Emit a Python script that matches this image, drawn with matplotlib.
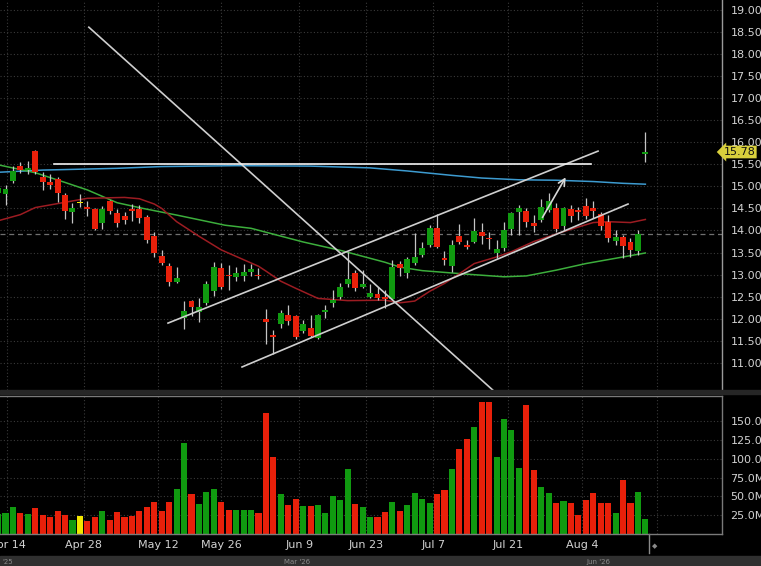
import matplotlib
matplotlib.use("Agg")
import matplotlib.pyplot as plt
import matplotlib.transforms as mtransforms
from matplotlib.patches import Rectangle
import numpy as np

# daily bars, 9 Apr 2025 .. 14 Aug 2025 (index = trading day)
opens = [14.85, 14.82, 15.13, 15.47, 15.37, 15.80, 15.21, 15.11, 15.16, 14.80,
         14.41, 14.63, 14.54, 14.48, 14.18, 14.67, 14.39, 14.33, 14.49, 14.49,
         14.30, 13.88, 13.42, 13.20, 12.84, 12.01, 12.40, 12.16, 12.35, 12.63,
         13.14, 13.00, 12.95, 12.97, 13.06, 13.00, 11.99, 11.63, 11.88, 12.08,
         12.05, 11.71, 11.80, 11.56, 12.15, 12.35, 12.50, 12.79, 13.04, 12.73,
         12.50, 12.55, 12.50, 12.44, 13.24, 13.03, 13.27, 13.44, 13.67, 14.05,
         13.38, 13.19, 13.88, 13.67, 13.75, 13.97, 13.84, 13.50, 13.60, 14.03,
         14.43, 14.44, 14.18, 14.24, 14.46, 14.50, 14.10, 14.48, 14.46, 14.56,
         14.50, 14.37, 14.20, 13.77, 13.86, 13.75, 13.54, 15.74]
highs = [15.00, 15.03, 15.46, 15.55, 15.58, 15.83, 15.33, 15.27, 15.22, 14.85,
         14.62, 14.83, 14.66, 14.50, 14.56, 14.69, 14.48, 14.43, 14.60, 14.58,
         14.35, 13.97, 13.56, 13.26, 13.17, 12.39, 12.42, 12.46, 12.85, 13.29,
         13.26, 13.22, 13.18, 13.24, 13.24, 13.14, 12.21, 11.74, 12.20, 12.31,
         12.09, 11.97, 12.09, 12.11, 12.31, 12.65, 12.80, 13.52, 13.10, 13.10,
         12.78, 12.71, 12.65, 13.33, 13.31, 13.41, 13.94, 13.75, 14.12, 14.37,
         13.54, 13.78, 14.15, 13.78, 14.28, 14.18, 13.97, 13.78, 14.20, 14.43,
         14.58, 14.50, 14.35, 14.71, 14.84, 14.62, 14.54, 14.58, 14.53, 14.73,
         14.68, 14.43, 14.35, 14.01, 13.90, 13.82, 14.01, 16.23]
lows = [14.75, 14.58, 15.08, 15.30, 15.27, 15.28, 14.92, 14.93, 14.65, 14.26,
        14.18, 14.54, 14.33, 14.01, 14.03, 14.37, 14.07, 14.15, 14.22, 14.16,
        13.72, 13.41, 13.22, 12.74, 12.82, 11.76, 12.05, 11.93, 12.30, 12.51,
        12.67, 12.65, 12.86, 12.86, 12.97, 12.89, 11.43, 11.20, 11.80, 11.86,
        11.55, 11.67, 11.58, 11.54, 12.01, 12.27, 12.44, 12.73, 12.63, 12.69,
        12.46, 12.42, 12.24, 12.42, 12.97, 12.92, 13.22, 13.41, 13.63, 13.60,
        13.22, 13.07, 13.69, 13.57, 13.71, 13.69, 13.57, 13.37, 13.54, 13.90,
        13.90, 14.09, 13.97, 14.20, 14.42, 13.97, 14.01, 14.20, 14.24, 14.25,
        14.28, 14.01, 13.75, 13.67, 13.37, 13.41, 13.44, 15.55]
closes = [14.96, 14.95, 15.35, 15.37, 15.42, 15.32, 15.11, 15.04, 14.86, 14.45,
          14.51, 14.63, 14.49, 14.03, 14.48, 14.44, 14.16, 14.24, 14.44, 14.28,
          13.78, 13.50, 13.26, 12.84, 12.92, 12.18, 12.27, 12.27, 12.78, 13.17,
          12.73, 12.97, 13.04, 13.06, 13.12, 12.97, 11.92, 11.59, 12.12, 11.95,
          11.59, 11.88, 11.61, 12.09, 12.20, 12.42, 12.71, 12.89, 12.69, 12.79,
          12.59, 12.46, 12.45, 13.17, 13.14, 13.35, 13.39, 13.60, 14.05, 13.62,
          13.33, 13.67, 13.75, 13.63, 13.99, 13.88, 13.80, 13.58, 14.00, 14.39,
          14.51, 14.20, 14.10, 14.54, 14.68, 14.03, 14.50, 14.33, 14.42, 14.33,
          14.45, 14.10, 13.82, 13.86, 13.65, 13.56, 13.92, 15.78]
volume_m = [26, 28, 36, 27.5, 26, 35, 25, 22.6, 30, 25,
            18.6, 24, 17, 22.6, 30, 18.6, 29.6, 22, 24, 30,
            36, 42.5, 30, 42.5, 60, 121, 53, 40, 56, 60,
            42.5, 32, 32, 32, 31.5, 27.5, 161, 103, 53, 38.6,
            46, 37, 37, 38.6, 28, 50, 45, 86, 40, 36,
            22.6, 22.6, 29, 42, 30, 38.5, 54, 47, 41, 53,
            58.5, 87, 112.6, 126, 142, 175, 175, 103, 153, 138,
            88, 171, 85, 62, 54.5, 41, 43.5, 41, 25, 45,
            54.5, 41, 41, 27.5, 72, 41, 56, 19.5]

# moving averages (bar index, price)
ma20_idx = [0, 3, 5, 7, 12, 17, 19, 21, 22, 24, 27, 30, 35, 36, 38, 40, 43, 47,
            52, 54, 56, 58, 60, 62, 64, 67, 69, 72, 75, 78, 80, 82, 85, 87]
ma20_val = [14.22, 14.36, 14.52, 14.58, 14.73, 14.75, 14.72, 14.60, 14.50, 14.20,
            13.87, 13.56, 13.19, 13.08, 12.85, 12.69, 12.46, 12.41, 12.42, 12.36,
            12.40, 12.62, 12.80, 13.02, 13.25, 13.40, 13.52, 13.75, 13.92, 14.08,
            14.18, 14.20, 14.18, 14.25]
ma50_idx = [0, 5, 9, 12, 16, 19.5, 24, 30.5, 34, 41, 46, 52, 54, 57, 63, 68, 71,
            75, 79, 83, 87]
ma50_val = [15.49, 15.31, 15.09, 14.92, 14.63, 14.50, 14.35, 14.12, 14.05, 13.74,
            13.55, 13.28, 13.17, 13.09, 13.01, 12.95, 12.97, 13.10, 13.25, 13.37,
            13.49]
ma200_idx = [0, 6, 16, 22, 32, 42, 50, 55, 61, 65, 70, 75, 80, 84, 87]
ma200_val = [15.32, 15.37, 15.41, 15.45, 15.47, 15.46, 15.42, 15.35, 15.25, 15.19,
             15.15, 15.14, 15.11, 15.07, 15.05]

# drawn trendlines: (start idx, start price, end idx, end price)
trend_lines = [(12.2, 18.61, 70.0, 9.85),
               (22.84, 11.90, 80.64, 15.80),
               (32.79, 10.905, 84.67, 14.60)]
resistance = (7.52, 79.7, 15.50)
arrow_line = (72.98, 14.24, 76.47, 15.26)

date_labels = ["Apr 14", "Apr 28", "May 12", "May 26", "Jun 9", "Jun 23",
               "Jul 7", "Jul 21", "Aug 4", ""]
date_pos = [1.7, 12, 22, 30.5, 41, 50, 59, 69, 79, 89]

GREEN = "#109a10"
RED = "#e8200a"
YELLOW = "#f2e600"
GRID = "#3a3a3a"
TXT = "#d2d2d2"

n = len(closes)
x = np.arange(n)
o = np.array(opens); c = np.array(closes)
colors = [GREEN if cc > oo else (RED if cc < oo else YELLOW) for oo, cc in zip(o, c)]

fig = plt.figure(figsize=(7.61, 5.66), dpi=100, facecolor="black")
ax = fig.add_axes([0, 176 / 566, 722 / 761, 390 / 566], facecolor="black")
axv = fig.add_axes([0, 32 / 566, 722 / 761, 138 / 566], facecolor="black")

xlim = (0.26, 97.3)
grid_x = [p - 0.5 for p in date_pos]

# ---- price panel
ax.set_xlim(*xlim)
ax.set_ylim(10.383, 19.227)
for gy in np.arange(11, 19.01, 0.5):
    ax.axhline(gy, color=GRID, lw=0.8, ls=(0, (1, 2)), zorder=0)
for gx in grid_x:
    ax.axvline(gx, color=GRID, lw=0.8, ls=(0, (1, 2)), zorder=0)

ax.axhline(closes[-2], color="#707070", lw=0.9, ls=(0, (4, 3)), zorder=1)

ax.plot(ma200_idx, ma200_val, color="#3d9bd0", lw=1.1, zorder=2)
ax.plot(ma50_idx, ma50_val, color="#3cae3c", lw=1.1, zorder=2)
ax.plot(ma20_idx, ma20_val, color="#9c1c22", lw=1.1, zorder=2)

ax.vlines(x, lows, highs, color="#c4c4c4", lw=0.9, zorder=3)
bottoms = np.minimum(o, c)
heights = np.maximum(np.abs(c - o), 0.025)
ax.bar(x, heights, bottom=bottoms, width=0.8, color=colors, lw=0, zorder=4)

for x0, y0, x1, y1 in trend_lines:
    ax.plot([x0, x1], [y0, y1], color="#cfcfcf", lw=1.2, zorder=5)
ax.plot([resistance[0], resistance[1]], [resistance[2]] * 2, color="#f4f4f4",
        lw=1.2, zorder=5)
ax.annotate("", xy=(arrow_line[2], arrow_line[3]), xytext=(arrow_line[0], arrow_line[1]),
            arrowprops=dict(arrowstyle="->", color="#d8d8d8", lw=1.2,
                            mutation_scale=12), zorder=6)

ax.yaxis.tick_right()
ax.set_yticks(np.arange(11, 19.01, 0.5))
ax.set_yticklabels([f"{v:.2f}" for v in np.arange(11, 19.01, 0.5)])
ax.tick_params(axis="y", length=0, pad=6, labelsize=8, labelcolor=TXT)
ax.set_xticks([])
for s in ["left", "top", "bottom"]:
    ax.spines[s].set_visible(False)
ax.spines["right"].set_color("#9a9a9a")
ax.spines["right"].set_linewidth(1.0)

trans = mtransforms.blended_transform_factory(ax.transAxes, ax.transData)
ax.text(1.002, closes[-1], f"{closes[-1]:.2f}", transform=trans, fontsize=8,
        color="#111111", va="center", ha="left", clip_on=False, zorder=10,
        bbox=dict(boxstyle="larrow,pad=0.12", fc="#d8cf3c", ec="none"))

# ---- volume panel
axv.set_xlim(*xlim)
axv.set_ylim(0, 183.5)
for gy in [25, 50, 75, 100, 125, 150]:
    axv.axhline(gy, color=GRID, lw=0.8, ls=(0, (1, 2)), zorder=0)
for gx in grid_x:
    axv.axvline(gx, color=GRID, lw=0.8, ls=(0, (1, 2)), zorder=0)
axv.bar(x, volume_m, width=0.82, color=colors, lw=0, zorder=2)

axv.yaxis.tick_right()
axv.set_yticks([25, 50, 75, 100, 125, 150])
axv.set_yticklabels(["25.0M", "50.0M", "75.0M", "100.0M", "125.0M", "150.0M"])
axv.tick_params(axis="y", length=0, pad=6, labelsize=8, labelcolor=TXT)
axv.set_xticks(grid_x)
axv.set_xticklabels(date_labels)
axv.tick_params(axis="x", length=0, pad=4, labelsize=8, labelcolor=TXT)
axv.spines["left"].set_visible(False)
for s in ["top", "right", "bottom"]:
    axv.spines[s].set_color("#7a7a7a")
    axv.spines[s].set_linewidth(1.0)

# "now" marker under the last bar
tv = mtransforms.blended_transform_factory(axv.transData, axv.transAxes)
axv.plot([n - 0.5, n - 0.5], [0, -0.14], color="#8a8a8a", lw=1, transform=tv,
         clip_on=False)
axv.text(n + 0.3, -0.085, "\u25c6", transform=tv, fontsize=5, color="#8a8a8a",
         ha="center", va="center", clip_on=False)

# separator and navigator strip
fig.patches.append(Rectangle((0, 172 / 566), 1, 4 / 566, transform=fig.transFigure,
                             color="#262626", zorder=0))
fig.patches.append(Rectangle((0, 0), 1, 10 / 566, transform=fig.transFigure,
                             color="#303030", zorder=0))
for fx, lab in [(0, "'25"), (282, "Mar '26"), (584, "Jun '26")]:
    fig.text((fx + 2) / 761, 4 / 566, lab, fontsize=5, color="#8a8a8a",
             ha="left", va="center")

fig.savefig("out.png", dpi=100, facecolor="black")
